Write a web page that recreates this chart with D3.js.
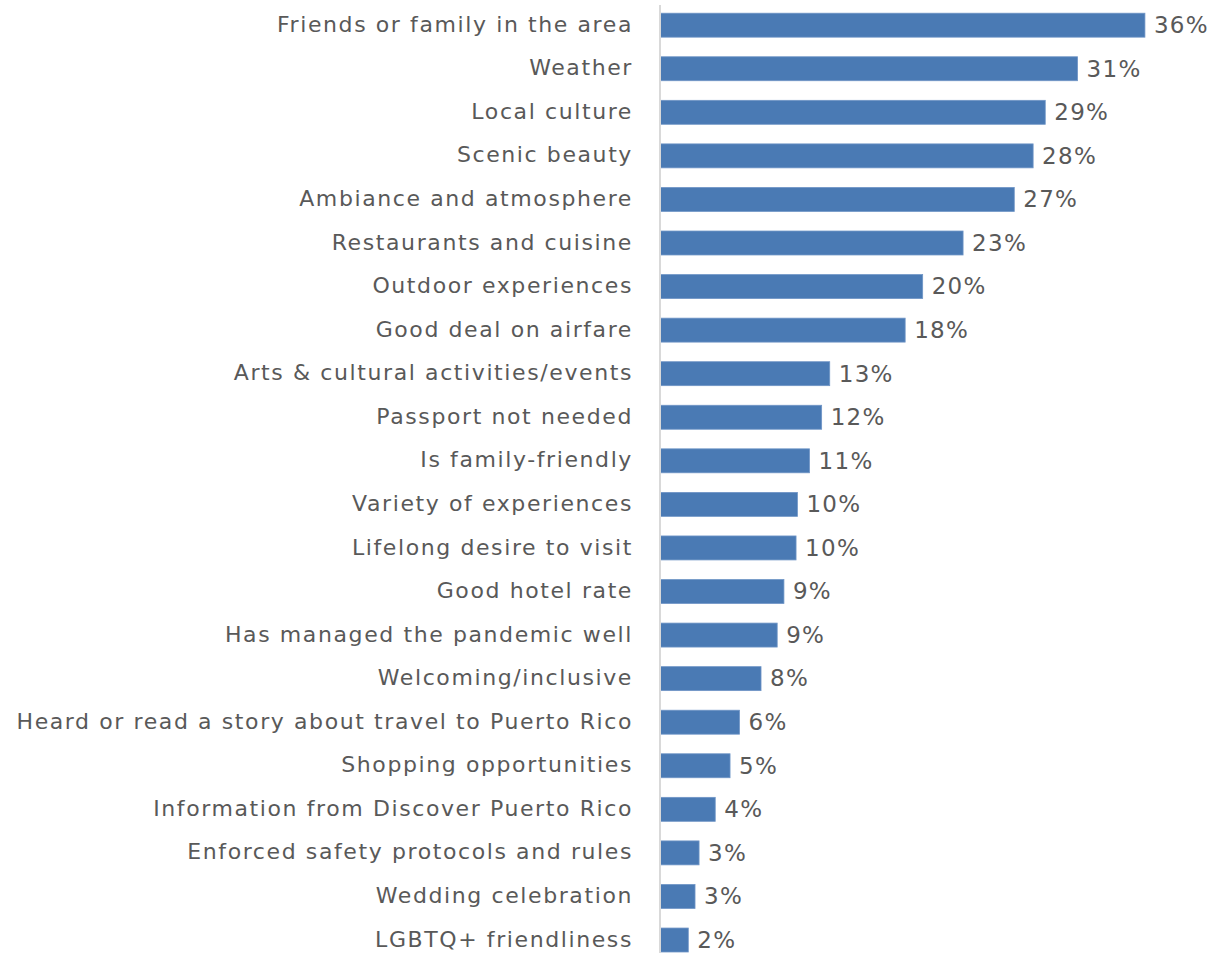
<!DOCTYPE html>
<html>
<head>
<meta charset="utf-8">
<script src="https://cdn.jsdelivr.net/npm/d3@7"></script>
<style>
  html, body { margin: 0; padding: 0; background: #ffffff; }
  svg { display: block; }
  text { font-family: "Century Gothic", "DejaVu Sans", sans-serif; fill: #595959; }
</style>
</head>
<body>
<svg id="chart" width="1217" height="953"></svg>
<script>
const categories = [
  "Friends or family in the area",
  "Weather",
  "Local culture",
  "Scenic beauty",
  "Ambiance and atmosphere",
  "Restaurants and cuisine",
  "Outdoor experiences",
  "Good deal on airfare",
  "Arts & cultural activities/events",
  "Passport not needed",
  "Is family-friendly",
  "Variety of experiences",
  "Lifelong desire to visit",
  "Good hotel rate",
  "Has managed the pandemic well",
  "Welcoming/inclusive",
  "Heard or read a story about travel to Puerto Rico",
  "Shopping opportunities",
  "Information from Discover Puerto Rico",
  "Enforced safety protocols and rules",
  "Wedding celebration",
  "LGBTQ+ friendliness"
];
const values = [36.0, 31.0, 28.6, 27.7, 26.3, 22.5, 19.5, 18.2, 12.6, 12.0, 11.1, 10.2, 10.1, 9.2, 8.7, 7.5, 5.9, 5.2, 4.1, 2.9, 2.6, 2.1];
const valueLabels = ["36%", "31%", "29%", "28%", "27%", "23%", "20%", "18%", "13%", "12%", "11%", "10%", "10%", "9%", "9%", "8%", "6%", "5%", "4%", "3%", "3%", "2%"];

const data = categories.map((c, i) => ({ cat: c, v: values[i], lab: valueLabels[i] }));

const svg = d3.select("#chart");
const x0 = 660;
const x = d3.scaleLinear().domain([0, 40]).range([x0, x0 + 538.8]);
const y = d3.scaleBand().domain(categories).range([3.4, 961.8]).paddingInner(0.45).paddingOuter(0.225);

// bars
svg.append("g").selectAll("rect").data(data).enter().append("rect")
  .attr("x", x(0))
  .attr("y", d => y(d.cat))
  .attr("width", d => x(d.v) - x(0))
  .attr("height", y.bandwidth())
  .attr("fill", "#4a7ab4")
  .attr("stroke", "#6f95c6")
  .attr("stroke-width", 0.8);

// axis line
svg.append("line")
  .attr("x1", x0).attr("x2", x0)
  .attr("y1", 5).attr("y2", 953)
  .attr("stroke", "#d9d9d9").attr("stroke-width", 2);

// category labels
svg.append("g").selectAll("text").data(data).enter().append("text")
  .attr("x", x0 - 27)
  .attr("y", d => y(d.cat) + y.bandwidth() / 2)
  .attr("dy", "0.3em")
  .attr("text-anchor", "end")
  .style("font-size", "22px")
  .style("letter-spacing", "1.6px")
  .text(d => d.cat);

// value labels
svg.append("g").selectAll("text").data(data).enter().append("text")
  .attr("x", d => x(d.v) + 9)
  .attr("y", d => y(d.cat) + y.bandwidth() / 2)
  .attr("dy", "0.34em")
  .attr("text-anchor", "start")
  .style("font-size", "23px")
  .style("letter-spacing", "1.3px")
  .text(d => d.lab);
</script>
</body>
</html>
